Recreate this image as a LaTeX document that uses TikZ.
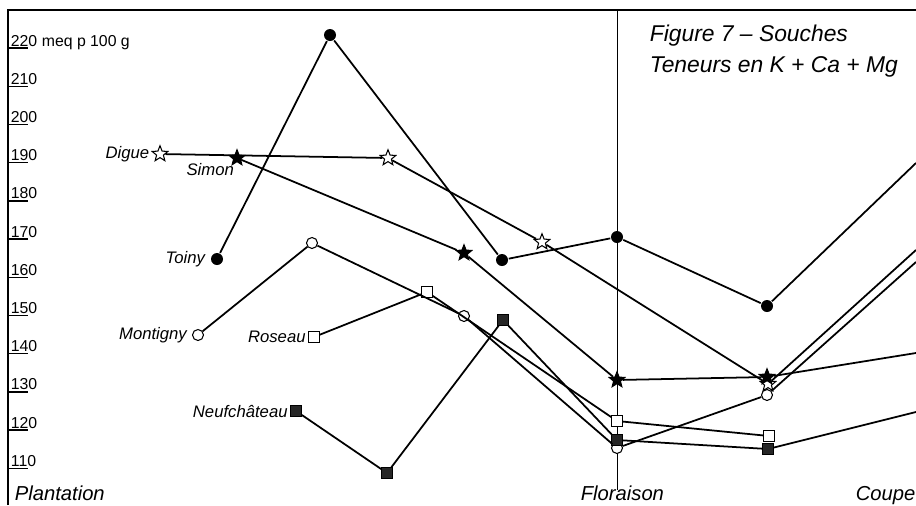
\documentclass[tikz,border=0pt]{standalone}
\usepackage{fontspec}
\setmainfont{Liberation Sans}
\usetikzlibrary{shapes.geometric,positioning}

\begin{document}
\begin{tikzpicture}[x=0.02cm,y=-0.02cm,node distance=1mm,line width=1pt,
  dot/.style={circle,fill=black,inner sep=0pt,minimum size=2.4mm},
  ring/.style={circle,draw,fill=white,inner sep=0pt,minimum size=2.2mm,line width=0.6pt},
  sq/.style={rectangle,draw,fill=white,inner sep=0pt,minimum size=2.1mm,line width=0.6pt},
  blk/.style={sq,fill=black!85},
  etoile/.style={star,star points=5,star point ratio=2.3,inner sep=0pt,minimum size=3.3mm,draw,line width=0.6pt},
  pleine/.style={etoile,fill=black},
  vide/.style={etoile,fill=white},
  nom/.style={font=\fontsize{9.5}{11}\selectfont\itshape,inner sep=1pt},
  num/.style={font=\fontsize{9}{10}\selectfont,inner sep=0pt,anchor=base west},
  phase/.style={font=\fontsize{11.5}{13}\selectfont\itshape,inner sep=0pt,anchor=base west},
  titre/.style={font=\fontsize{13}{15}\selectfont\itshape,inner sep=0pt,anchor=base west}]
  \useasboundingbox (0,0) rectangle (916,505);
  \draw (8,505) -- (8,10) -- (916,10);
  \draw[line width=0.5pt] (617,10) -- (617,490);
  \foreach \v in {220,210,...,110} {
    \draw[line width=0.8pt] (8,{48+(220-\v)*3.82}) -- (28,{48+(220-\v)*3.82});
    \node[num] (val_\v) at (10,{46+(220-\v)*3.82}) {\v};
  }
  \node[num] (unite) at (41,46) {meq p 100 g};

  \node[titre] (titre_1) at (649,41) {Figure 7 -- Souches};
  \node[titre] (titre_2) at (649,72) {Teneurs en K + Ca + Mg};
  \node[phase] (plantation) at (14,500) {Plantation};
  \node[phase] (floraison) at (580,500) {Floraison};
  \node[phase] (coupe) at (855,500) {Coupe};

  \node[dot] (toiny_1) at (217,259) {};
  \node[dot] (toiny_2) at (330,35) {};
  \node[dot] (toiny_3) at (502,260) {};
  \node[dot] (toiny_4) at (617,237) {};
  \node[dot] (toiny_5) at (767,306) {};
  \coordinate (toiny_6) at (916,163);

  \node[vide] (digue_1) at (160,154) {};
  \node[vide] (digue_2) at (388,158) {};
  \node[vide] (digue_3) at (542,242) {};
  \node[vide] (digue_4) at (768,384) {};
  \coordinate (digue_5) at (916,250);

  \node[pleine] (simon_1) at (237,158) {};
  \node[pleine] (simon_2) at (464,253) {};
  \node[pleine] (simon_3) at (617,380) {};
  \node[pleine] (simon_4) at (767,377) {};
  \coordinate (simon_5) at (916,353);

  \node[ring] (montigny_1) at (198,335) {};
  \node[ring] (montigny_2) at (312,243) {};
  \node[ring] (montigny_3) at (464,316) {};
  \node[ring] (montigny_4) at (617,448) {};
  \node[ring] (montigny_5) at (767,395) {};
  \coordinate (montigny_6) at (916,262);

  \node[sq] (roseau_1) at (314,337) {};
  \node[sq] (roseau_2) at (427,292) {};
  \node[sq] (roseau_3) at (617,421) {};
  \node[sq] (roseau_4) at (769,436) {};

  \node[blk] (neuf_1) at (296,411) {};
  \node[blk] (neuf_2) at (387,473) {};
  \node[blk] (neuf_3) at (503,320) {};
  \node[blk] (neuf_4) at (617,440) {};
  \node[blk] (neuf_5) at (768,449) {};
  \coordinate (neuf_6) at (916,412);

  \node[nom] (lab_digue) [left=0.5mm of digue_1] {Digue};
  \node[nom] (lab_simon) [below left=-0.5mm and -0.9mm of simon_1] {Simon};
  \node[nom] (lab_toiny) [left=0.5mm of toiny_1] {Toiny};
  \node[nom] (lab_montigny) [left=0.5mm of montigny_1] {Montigny};
  \node[nom] (lab_roseau) [left=0mm of roseau_1] {Roseau};
  \node[nom] (lab_neuf) [left=0mm of neuf_1] {Neufchâteau};

  \draw (toiny_1) -- (toiny_2) -- (toiny_3) -- (toiny_4) -- (toiny_5) -- (toiny_6);
  \draw (digue_1) -- (digue_2) -- (digue_3) -- (digue_4) -- (digue_5);
  \draw (simon_1) -- (simon_2) -- (simon_3) -- (simon_4) -- (simon_5);
  \draw (montigny_1) -- (montigny_2) -- (montigny_3) -- (montigny_4) -- (montigny_5) -- (montigny_6);
  \draw (roseau_1) -- (roseau_2) -- (roseau_3) -- (roseau_4);
  \draw (neuf_1) -- (neuf_2) -- (neuf_3) -- (neuf_4) -- (neuf_5) -- (neuf_6);
\end{tikzpicture}
\end{document}
